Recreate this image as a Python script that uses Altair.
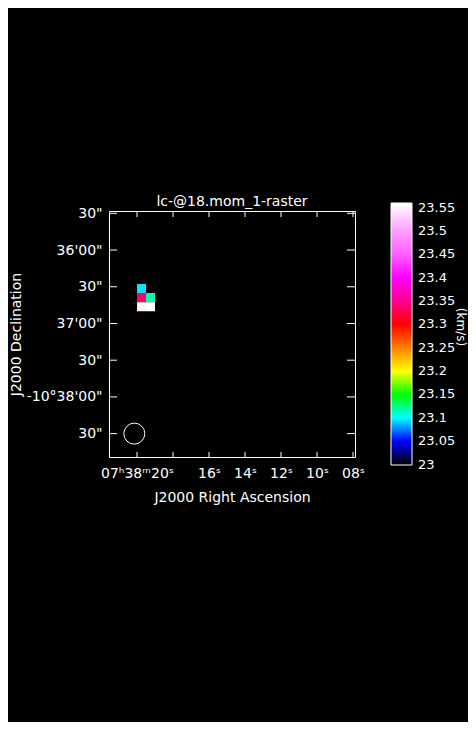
import json
import altair as alt
import pandas as pd

# ---- data ----
# RA in seconds of time after 07h38m, Dec in arcsec south of -10d35'00"
pix_ra_east = [20.0, 20.0, 19.5, 20.0, 19.5]
pix_ra_west = [19.5, 19.5, 19.0, 19.5, 19.0]
pix_dec_north = [87.8, 95.2, 95.2, 102.6, 102.6]
pix_dec_south = [95.2, 102.6, 102.6, 110.0, 110.0]
pix_velocity = [23.092, 23.335, 23.12, 23.55, 23.56]

beam_ra = [20.15]
beam_dec = [210.0]

ra_ticks = [20, 18, 16, 14, 12, 10, 8]
ra_labels = ["07ʰ38ᵐ20ˢ", "", "16ˢ", "14ˢ", "12ˢ", "10ˢ", "08ˢ"]
dec_ticks = [30, 60, 90, 120, 150, 180, 210]
dec_labels = ['30"', "36'00\"", '30"', "37'00\"", '30"', "-10°38'00\"", '30"']

cbar_ticks = [23.0, 23.05, 23.1, 23.15, 23.2, 23.25, 23.3, 23.35, 23.4, 23.45, 23.5, 23.55]
cbar_title = ["(km/s)"]
cmap_values = [22.999, 23.015, 23.03, 23.05, 23.07, 23.09, 23.10, 23.12, 23.14, 23.15,
               23.17, 23.19, 23.20, 23.22, 23.25, 23.28, 23.30, 23.33, 23.35, 23.37,
               23.40, 23.45, 23.50, 23.53, 23.56]
cmap_colors = ["#000000", "#000040", "#0000c0", "#0000ff", "#0080ff", "#00e0ff", "#00ffff",
               "#00ffb0", "#00ff40", "#00ff00", "#80ff00", "#ffff00", "#ffff00", "#ffc000",
               "#ff8000", "#ff3000", "#ff0000", "#ff0060", "#ff0090", "#ff00e0", "#ff00ff",
               "#ff60ff", "#ffa0ff", "#ffd0ff", "#ffffff"]

FONT = "DejaVu Sans"


def label_expr(values, labels):
    expr = '""'
    for v, l in reversed(list(zip(values, labels))):
        expr = f"abs(datum.value - {v}) < 1e-6 ? {json.dumps(l, ensure_ascii=False)} : ({expr})"
    return expr


pix_df = pd.DataFrame({
    "ra_e": pix_ra_east, "ra_w": pix_ra_west,
    "dec_n": pix_dec_north, "dec_s": pix_dec_south,
    "vel": pix_velocity,
})
beam_df = pd.DataFrame({"ra": beam_ra, "dec": beam_dec})
xt_df = pd.DataFrame({"ra": ra_ticks})
yt_df = pd.DataFrame({"dec": dec_ticks})
title_df = pd.DataFrame({"t": cbar_title})

W = 246
H = 246

x_scale = alt.Scale(domain=[21.556, 7.889], nice=False, zero=False)
y_scale = alt.Scale(domain=[28.1, 229.1], nice=False, zero=False, reverse=True)

x_axis = alt.Axis(values=ra_ticks, labelExpr=label_expr(ra_ticks, ra_labels),
                  title="J2000 Right Ascension", labelPadding=9, titlePadding=10,
                  labelOverlap=False, labelFlush=False)
y_axis = alt.Axis(values=dec_ticks, labelExpr=label_expr(dec_ticks, dec_labels),
                  title="J2000 Declination", labelPadding=7, titleX=-93,
                  titleBaseline="middle", labelOverlap=False, labelFlush=False)

color_scale = alt.Scale(type="linear", domain=cmap_values, range=cmap_colors,
                        interpolate="rgb", nice=False, zero=False)
legend = alt.Legend(
    title=None, orient="none", legendX=282, legendY=-8, direction="vertical",
    gradientLength=262, gradientThickness=21, gradientStrokeColor="white",
    gradientStrokeWidth=1, values=cbar_ticks, format=".2~f", labelOverlap=False,
    labelColor="white", labelFont=FONT, labelFontSize=13, labelOffset=6,
    labelBaseline="middle", padding=0,
)

rects = alt.Chart(pix_df).mark_rect().encode(
    x=alt.X("ra_e:Q", scale=x_scale, axis=x_axis),
    x2="ra_w:Q",
    y=alt.Y("dec_n:Q", scale=y_scale, axis=y_axis),
    y2="dec_s:Q",
    color=alt.Color("vel:Q", scale=color_scale, legend=legend),
)

beam = alt.Chart(beam_df).mark_point(
    shape="circle", filled=False, size=441, color="white", strokeWidth=1, opacity=1
).encode(x="ra:Q", y="dec:Q")

bottom_ticks = alt.Chart(xt_df).mark_rule(color="white", strokeWidth=1).encode(
    x="ra:Q", y=alt.value(H), y2=alt.value(H - 5))
top_ticks = alt.Chart(xt_df).mark_rule(color="white", strokeWidth=1).encode(
    x="ra:Q", y=alt.value(0), y2=alt.value(6))
left_ticks = alt.Chart(yt_df).mark_rule(color="white", strokeWidth=1).encode(
    y="dec:Q", x=alt.value(0), x2=alt.value(8))
right_ticks = alt.Chart(yt_df).mark_rule(color="white", strokeWidth=1).encode(
    y="dec:Q", x=alt.value(W), x2=alt.value(W - 8))

cbar_label = alt.Chart(title_df).mark_text(
    angle=90, color="white", font=FONT, fontSize=12, align="center", baseline="middle"
).encode(text="t:N", x=alt.value(352), y=alt.value(116))

chart = alt.layer(rects, beam, bottom_ticks, top_ticks, left_ticks, right_ticks,
                  cbar_label).properties(
    width=W, height=H,
    title=alt.TitleParams("lc-@18.mom_1-raster", color="white", fontSize=14,
                          fontWeight="normal", font=FONT, offset=-6, anchor="middle",
                          frame="group"),
    autosize=alt.AutoSizeParams(type="none"),
    padding={"left": 101, "top": 203, "right": 113, "bottom": 265},
    background="black",
).configure_view(
    stroke="white", strokeWidth=1
).configure_axis(
    domain=False, ticks=False, grid=False,
    labelColor="white", labelFont=FONT, labelFontSize=14,
    titleColor="white", titleFont=FONT, titleFontSize=14, titleFontWeight="normal",
)

chart.save("out.html", embed_options={"renderer": "svg", "actions": False})
